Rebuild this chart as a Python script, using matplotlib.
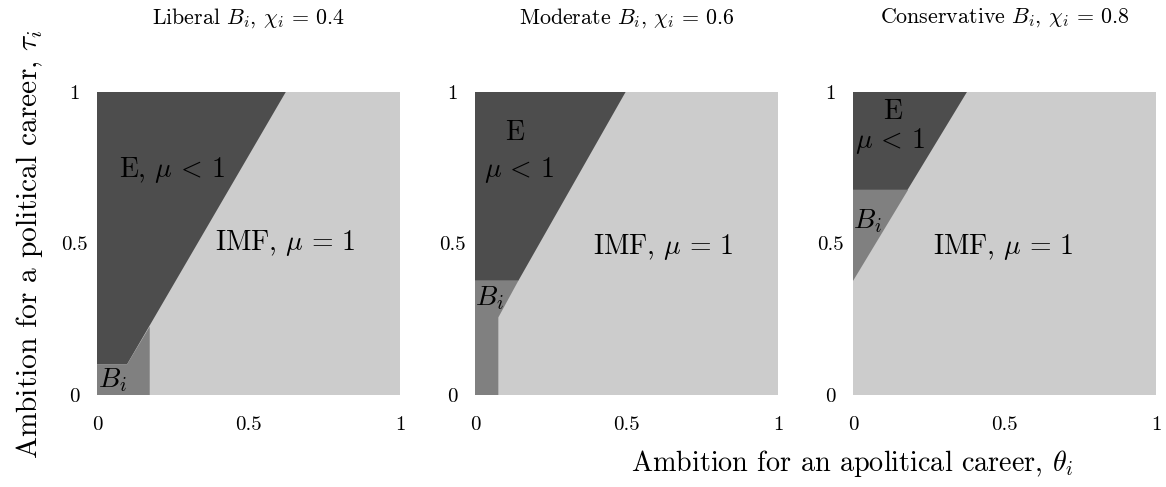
import numpy as np
import matplotlib
matplotlib.use("Agg")
import matplotlib.pyplot as plt
from matplotlib.patches import Polygon

plt.rcParams['font.family'] = 'serif'
plt.rcParams['font.serif'] = ['cmr10']
plt.rcParams['mathtext.fontset'] = 'cm'
plt.rcParams['axes.formatter.use_mathtext'] = True
plt.rcParams['axes.unicode_minus'] = False

# regions, (theta, tau) vertices
titles = [r'Liberal $B_i$, $\chi_i$ = 0.4',
          r'Moderate $B_i$, $\chi_i$ = 0.6',
          r'Conservative $B_i$, $\chi_i$ = 0.8']
imf_region = [(0, 0), (1, 0), (1, 1), (0, 1)]
e_regions = [
    [(0, 0.101), (0.099, 0.101), (0.623, 1), (0, 1)],
    [(0, 0.377), (0.143, 0.377), (0.497, 1), (0, 1)],
    [(0, 0.677), (0.180, 0.677), (0.376, 1), (0, 1)],
]
b_regions = [
    [(0, 0), (0.174, 0), (0.174, 0.226), (0.099, 0.101), (0, 0.101)],
    [(0, 0), (0.077, 0), (0.077, 0.256), (0.143, 0.377), (0, 0.377)],
    [(0, 0.377), (0, 0.677), (0.180, 0.677)],
]
ticks = [0, 0.5, 1]
tick_labels = ['0', '0.5', '1']

c_imf, c_e, c_b = '#cccccc', '#4d4d4d', '#808080'

fig = plt.figure(figsize=(11.66, 4.87), dpi=100)
lefts = [97, 475, 853]
axes = []
for k in range(3):
    ax = fig.add_axes([lefts[k] / 1166, 1 - 395 / 487, 303 / 1166, 303 / 487])
    ax.add_patch(Polygon(imf_region, closed=True, fc=c_imf, ec='none'))
    ax.add_patch(Polygon(e_regions[k], closed=True, fc=c_e, ec='none'))
    ax.add_patch(Polygon(b_regions[k], closed=True, fc=c_b, ec='none'))
    ax.set_xlim(0, 1)
    ax.set_ylim(0, 1)
    for s in ax.spines.values():
        s.set_visible(False)
    ax.set_xticks(ticks)
    ax.set_xticklabels(tick_labels, fontsize=15)
    ax.set_yticks(ticks)
    ax.set_yticklabels(tick_labels, fontsize=15, ha='center')
    ax.tick_params(axis='x', length=0, pad=15)
    ax.tick_params(axis='y', length=0, pad=16.5)
    ax.text(0.5, 1.245, titles[k], transform=ax.transAxes, ha='center', va='center', fontsize=15.8)
    axes.append(ax)

fs = 20
lt = r'$\mu\,<\,1$'
eq = r'IMF, $\mu\,=\,1$'
a1, a2, a3 = axes
a1.text(0.247, 0.743, 'E, ' + lt, ha='center', va='center', fontsize=fs)
a1.text(0.62, 0.50, eq, ha='center', va='center', fontsize=fs)
a1.text(0.051, 0.05, r'$B_i$', ha='center', va='center', fontsize=fs)

a2.text(0.13, 0.865, 'E', ha='center', va='center', fontsize=fs)
a2.text(0.145, 0.743, lt, ha='center', va='center', fontsize=fs)
a2.text(0.62, 0.49, eq, ha='center', va='center', fontsize=fs)
a2.text(0.047, 0.32, r'$B_i$', ha='center', va='center', fontsize=fs)

a3.text(0.13, 0.936, 'E', ha='center', va='center', fontsize=fs)
a3.text(0.122, 0.837, lt, ha='center', va='center', fontsize=fs)
a3.text(0.497, 0.49, eq, ha='center', va='center', fontsize=fs)
a3.text(0.046, 0.573, r'$B_i$', ha='center', va='center', fontsize=fs)

fig.text(30 / 1166, 1 - 244 / 487, r'Ambition for a political career, $\tau_i$',
         rotation=90, ha='center', va='center', fontsize=21.2)
fig.text(852 / 1166, 1 - 471 / 487, r'Ambition for an apolitical career, $\theta_i$',
         ha='center', va='baseline', fontsize=20.3)

fig.savefig('out.png', dpi=100)
